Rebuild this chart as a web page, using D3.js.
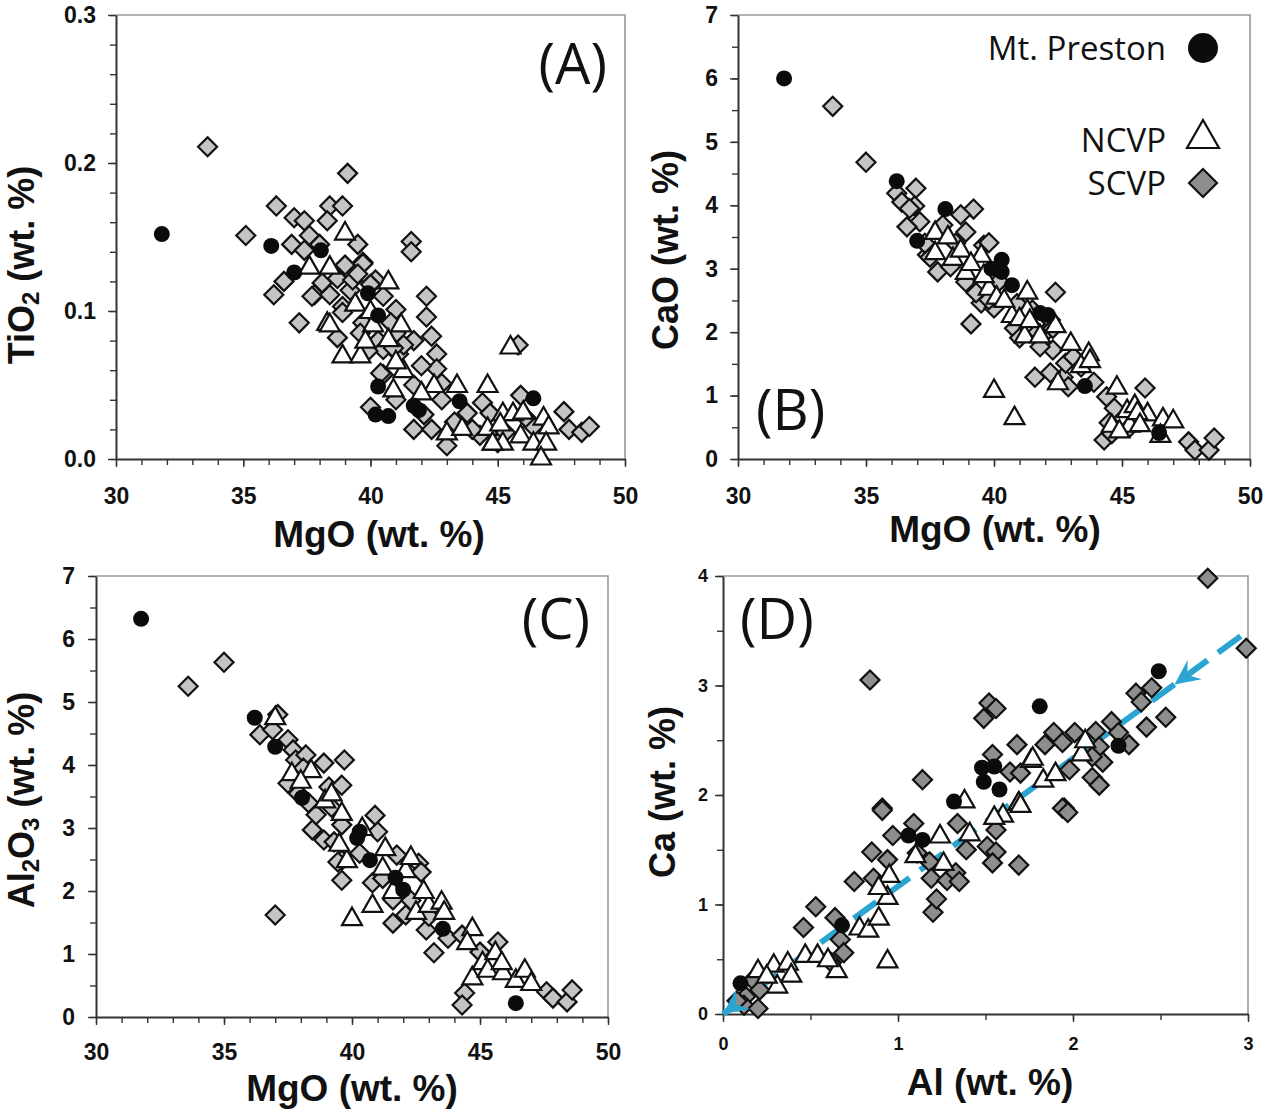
<!DOCTYPE html>
<meta charset="utf-8">
<html>
<style>
  body { margin: 0; background: #fff; }
  .tick text { font-family: "Liberation Sans", Arial, sans-serif; font-weight: bold; fill: #111; }
  .title { font-family: "Liberation Sans", Arial, sans-serif; font-weight: bold; fill: #111; }
  .plain { font-family: "Open Sans", "DejaVu Sans", sans-serif; fill: #111; }
</style>
<script src="https://cdn.jsdelivr.net/npm/d3@7"></script>
<body>
  <svg class="chart"></svg>
</body>
<script>
  var width = 1269;
  var height = 1111;

  // (A) TiO2 vs MgO, [MgO, TiO2]
  var tio2Preston = [[31.8,0.152],[36.1,0.144],[37.0,0.126],[38.05,0.141],[39.9,0.112],[40.3,0.097],[40.3,0.049],[40.2,0.030],[40.7,0.029],[41.7,0.036],[41.9,0.033],[43.5,0.039],[46.4,0.041]];
  var tio2Ncvp = [[39.0,0.153],[37.6,0.130],[38.4,0.130],[38.3,0.092],[38.4,0.091],[40.7,0.120],[40.1,0.091],[41.2,0.091],[38.9,0.070],[39.6,0.070],[39.8,0.080],[40.7,0.081],[41.3,0.060],[40.9,0.047],[42.5,0.050],[43.4,0.050],[44.6,0.050],[43.0,0.018],[43.6,0.021],[44.6,0.021],[44.8,0.011],[45.2,0.031],[45.6,0.031],[46.0,0.032],[45.5,0.076],[45.9,0.016],[46.4,0.011],[46.8,0.028],[47.0,0.022],[46.9,0.011],[46.7,0.001],[45.1,0.024],[45.2,0.011],[44.8,0.011],[39.4,0.105],[40.0,0.100],[41.0,0.066],[42.0,0.045]];
  var tio2Scvp = [[33.6,0.211],[39.1,0.193],[36.3,0.171],[38.4,0.171],[38.9,0.171],[37.0,0.163],[37.4,0.161],[38.3,0.161],[35.1,0.151],[37.6,0.151],[36.9,0.145],[37.4,0.141],[36.6,0.120],[36.2,0.111],[37.8,0.111],[38.4,0.111],[38.1,0.119],[37.2,0.092],[38.7,0.122],[39.2,0.114],[39.7,0.133],[39.7,0.092],[38.9,0.103],[39.3,0.121],[39.5,0.145],[39.0,0.131],[41.6,0.147],[41.6,0.140],[39.7,0.132],[37.7,0.110],[40.2,0.121],[41.0,0.101],[42.2,0.110],[42.2,0.096],[42.4,0.083],[42.6,0.071],[42.6,0.061],[41.7,0.080],[41.1,0.071],[40.5,0.057],[41.7,0.050],[42.8,0.051],[40.0,0.035],[41.0,0.040],[41.7,0.020],[42.4,0.020],[43.0,0.009],[42.8,0.040],[43.8,0.031],[44.4,0.038],[44.7,0.031],[44.3,0.016],[45.0,0.011],[45.8,0.077],[45.9,0.043],[46.4,0.022],[47.6,0.032],[47.8,0.020],[48.3,0.018],[48.6,0.022],[38.7,0.082],[40.4,0.058],[38.9,0.099],[40.3,0.080],[41.0,0.085],[41.3,0.077],[40.5,0.074],[39.9,0.073],[40.0,0.118],[40.5,0.110],[39.5,0.125],[40.8,0.092],[39.6,0.085],[42.1,0.030],[43.3,0.025],[44.0,0.020],[46.1,0.028],[45.3,0.018],[38.0,0.145],[40.9,0.075],[42.0,0.063]];

  // (B) CaO vs MgO, [MgO, CaO]
  var caoPreston = [[31.8,6.0],[36.2,4.38],[37.0,3.44],[38.1,3.94],[39.9,3.0],[40.3,3.14],[40.3,2.95],[40.7,2.74],[41.8,2.3],[42.1,2.27],[43.55,1.15],[46.45,0.41]];
  var caoNcvp = [[40.0,1.09],[40.8,0.66],[37.7,3.26],[38.4,3.17],[38.9,2.95],[39.5,3.22],[39.8,2.70],[40.1,2.56],[40.7,2.27],[41.3,2.64],[41.3,2.35],[41.2,1.95],[43.0,1.83],[43.7,1.67],[43.4,1.48],[42.5,1.21],[44.8,1.14],[44.6,0.54],[45.3,0.54],[45.2,0.77],[45.5,0.85],[46.0,0.72],[45.6,0.74],[46.6,0.64],[47.0,0.61],[46.5,0.38],[37.7,3.58],[38.2,3.51],[38.7,3.30],[39.1,3.09],[39.6,2.90],[40.4,2.51],[41.0,2.22],[41.4,2.19],[41.8,1.95],[42.4,2.11],[43.75,1.56],[44.9,0.45],[45.7,0.55]];
  var caoScvp = [[33.7,5.56],[35.0,4.68],[36.95,4.27],[36.2,4.19],[36.4,4.05],[36.9,3.99],[37.1,3.74],[36.6,3.66],[37.4,3.22],[39.2,3.94],[38.7,3.85],[38.0,3.69],[39.6,3.37],[39.8,3.41],[38.9,3.58],[37.8,2.95],[39.1,2.13],[42.0,1.99],[42.2,2.19],[42.4,2.63],[42.3,1.72],[42.7,1.29],[37.5,3.18],[38.3,3.03],[39.5,2.46],[40.0,2.38],[40.8,2.06],[41.0,1.91],[41.7,2.0],[41.8,1.77],[42.3,2.06],[42.8,1.51],[43.1,1.61],[41.6,1.29],[42.2,1.36],[42.9,1.14],[43.9,1.21],[44.4,0.98],[44.7,0.80],[45.9,1.12],[44.3,0.30],[47.6,0.27],[47.85,0.14],[48.4,0.14],[48.6,0.33],[44.5,0.57],[38.9,2.79],[39.3,2.62],[39.8,2.51],[37.3,3.40],[38.5,3.40],[40.2,2.80],[40.9,2.45],[41.5,2.35],[43.4,1.45],[44.6,0.40],[45.3,0.50],[36.7,3.95]];

  // (C) Al2O3 vs MgO, [MgO, Al2O3]
  var al2o3Preston = [[31.76,6.32],[36.2,4.75],[37.0,4.29],[38.05,3.48],[40.2,2.84],[40.3,2.94],[40.7,2.49],[41.7,2.21],[42.0,2.02],[43.55,1.40],[46.4,0.22]];
  var al2o3Ncvp = [[37.0,4.76],[37.65,3.87],[38.4,3.92],[38.95,3.44],[39.6,3.24],[39.8,2.49],[40.8,1.78],[40.0,1.57],[41.3,2.68],[41.2,2.37],[42.1,2.33],[42.5,1.67],[43.0,1.78],[43.5,1.83],[43.6,1.67],[44.7,1.41],[44.5,1.19],[44.7,0.63],[45.1,0.87],[45.6,1.03],[45.3,0.75],[45.9,0.71],[45.85,0.87],[46.4,0.59],[46.75,0.75],[47.0,0.54],[42.3,2.54],[38.0,3.75],[39.2,3.55],[40.4,3.0],[39.5,2.75],[42.8,2.0],[41.6,2.0]];
  var al2o3Scvp = [[35.0,5.63],[33.6,5.25],[37.1,4.8],[36.4,4.48],[36.9,4.56],[37.5,4.4],[37.7,4.24],[37.5,3.71],[37.8,4.08],[38.2,4.16],[38.9,4.03],[39.7,4.08],[38.3,3.40],[39.1,3.65],[39.6,3.68],[38.45,2.97],[38.9,2.81],[39.3,2.78],[39.6,2.49],[38.6,3.21],[39.2,3.33],[37.0,1.62],[41.0,2.94],[39.45,2.46],[39.6,2.17],[40.8,2.13],[41.6,1.86],[41.6,1.49],[42.1,1.62],[42.9,1.38],[43.2,1.02],[42.6,2.44],[42.7,2.30],[41.75,2.57],[43.75,1.25],[44.3,1.30],[45.0,1.03],[45.7,1.19],[44.4,0.38],[44.3,0.19],[47.6,0.40],[47.85,0.30],[48.4,0.24],[48.6,0.43],[39.6,3.05],[40.9,3.2],[38.1,3.95],[40.3,2.6],[42.3,1.85],[43.0,1.6],[37.9,3.55],[41.2,2.2]];

  // (D) Ca vs Al, [Al, Ca]
  var caPreston = [[0.10,0.28],[0.68,0.81],[1.06,1.63],[1.14,1.59],[1.32,1.94],[1.48,2.25],[1.55,2.26],[1.49,2.12],[1.58,2.05],[1.81,2.81],[2.26,2.45],[2.49,3.13]];
  var caNcvp = [[0.29,0.45],[0.37,0.47],[0.31,0.26],[0.39,0.36],[0.47,0.54],[0.54,0.54],[0.65,0.40],[0.78,0.79],[0.83,0.77],[0.89,0.88],[0.94,1.07],[0.95,1.27],[0.89,1.16],[0.94,0.49],[1.26,1.38],[1.24,1.63],[1.41,1.65],[1.38,1.95],[1.60,1.82],[1.69,1.93],[1.69,1.93],[1.76,2.32],[1.83,2.14],[2.05,2.38],[2.07,2.50],[1.77,2.34],[1.70,1.91],[0.20,0.40],[0.60,0.50],[1.10,1.45],[1.55,1.80],[1.90,2.20],[0.25,0.35]];
  var caScvp = [[2.77,3.98],[2.99,3.34],[0.84,3.05],[1.52,2.84],[1.56,2.79],[1.49,2.70],[2.36,2.93],[2.45,2.98],[2.39,2.85],[2.22,2.67],[2.42,2.62],[2.53,2.71],[1.89,2.57],[2.01,2.57],[2.13,2.58],[2.26,2.57],[1.68,2.46],[1.84,2.46],[1.94,2.48],[2.15,2.44],[2.32,2.46],[2.17,2.30],[2.11,2.35],[1.98,2.23],[1.54,2.37],[1.14,2.14],[0.91,1.88],[1.64,2.21],[1.70,2.20],[1.95,1.88],[2.11,2.16],[2.15,2.09],[0.91,1.86],[1.09,1.74],[0.97,1.63],[0.85,1.48],[0.94,1.41],[1.11,1.47],[1.18,1.39],[0.86,1.24],[0.75,1.21],[0.53,0.98],[0.46,0.79],[0.64,0.88],[0.67,0.68],[0.69,0.56],[0.62,0.47],[0.17,0.31],[0.13,0.16],[0.21,0.22],[1.20,0.93],[1.19,1.24],[1.28,1.22],[1.33,1.29],[1.35,1.21],[1.39,1.50],[1.51,1.53],[1.56,1.48],[1.54,1.38],[1.69,1.36],[1.94,1.88],[1.97,1.84],[1.56,1.68],[1.34,1.74],[1.22,1.05],[0.12,0.08],[0.20,0.05],[0.08,0.12]];
  var caAlTrend = [[0, 0], [3.0, 3.5]];

  var legendNames = ["Mt. Preston", "NCVP", "SCVP"];

  var diamondPath = "M0,-9.5L9.5,0L0,9.5L-9.5,0Z";
  var trianglePath = "M0,-10.5L10,7L-10,7Z";

  var chart = d3.select(".chart")
    .attr("width", width)
    .attr("height", height);

  var panels = [
    {letter: "(A)", lx: 607, ly: 84, anchor: "end",
     box: [116, 625, 15, 459], xdom: [30, 50], ydom: [0, 0.3],
     xMajor: [30, 35, 40, 45, 50], xMinor: d3.range(30, 51, 1),
     yMajor: [0, 0.1, 0.2, 0.3], yMinor: d3.range(0, 0.301, 0.02),
     yFmt: d3.format(".1f"), tickFont: 23, xPad: 21, yPad: 12,
     xTitle: [379, 534], yTitle: [34, 265], ylab: ["TiO", "2", " (wt. %)"], xlab: "MgO (wt. %)",
     series: [tio2Scvp, tio2Ncvp, tio2Preston], dFill: "#c4c4c4"},
    {letter: "(B)", lx: 756, ly: 430, anchor: "start",
     box: [738, 1250, 15, 459], xdom: [30, 50], ydom: [0, 7],
     xMajor: [30, 35, 40, 45, 50], xMinor: d3.range(30, 51, 1),
     yMajor: d3.range(0, 8, 1), yMinor: d3.range(0, 7.01, 0.5),
     yFmt: d3.format("d"), tickFont: 23, xPad: 21, yPad: 12,
     xTitle: [995, 529], yTitle: [678, 250], ylab: ["CaO", "", " (wt. %)"], xlab: "MgO (wt. %)",
     series: [caoScvp, caoNcvp, caoPreston], dFill: "#c4c4c4"},
    {letter: "(C)", lx: 590, ly: 639, anchor: "end",
     box: [96, 608, 576, 1017], xdom: [30, 50], ydom: [0, 7],
     xMajor: [30, 35, 40, 45, 50], xMinor: d3.range(30, 51, 1),
     yMajor: d3.range(0, 8, 1), yMinor: d3.range(0, 7.01, 0.5),
     yFmt: d3.format("d"), tickFont: 23, xPad: 19, yPad: 13,
     xTitle: [352, 1088], yTitle: [34, 800], ylab: ["Al", "2", "O", "3", " (wt. %)"], xlab: "MgO (wt. %)",
     series: [al2o3Scvp, al2o3Ncvp, al2o3Preston], dFill: "#c4c4c4"},
    {letter: "(D)", lx: 740, ly: 639, anchor: "start",
     box: [723, 1248, 576, 1014], xdom: [0, 3], ydom: [0, 4],
     xMajor: [0, 1, 2, 3], xMinor: d3.range(0, 3.01, 0.5),
     yMajor: [0, 1, 2, 3, 4], yMinor: d3.range(0, 4.01, 0.5),
     yFmt: d3.format("d"), tickFont: 18, xPad: 15, yPad: 7,
     xTitle: [990, 1082], yTitle: [675, 792], ylab: ["Ca", "", " (wt. %)"], xlab: "Al (wt. %)",
     series: [caScvp, caNcvp, caPreston], dFill: "#8e8e8e"}
  ];

  panels.forEach(function(p) {
    var x = d3.scaleLinear().domain(p.xdom).range([p.box[0], p.box[1]]);
    var y = d3.scaleLinear().domain(p.ydom).range([p.box[3], p.box[2]]);
    var g = chart.append("g");

    // frame top/right
    g.append("path")
      .attr("d", "M" + p.box[0] + "," + p.box[2] + "H" + p.box[1] + "V" + p.box[3])
      .attr("fill", "none").attr("stroke", "#999").attr("stroke-width", 1.6);

    // minor ticks
    g.append("g").attr("transform", "translate(0," + p.box[3] + ")")
      .call(d3.axisBottom(x).tickValues(p.xMinor).tickSize(6).tickSizeOuter(0).tickFormat(""))
      .call(function(a) { a.select(".domain").remove(); });
    g.append("g").attr("transform", "translate(" + p.box[0] + ",0)")
      .call(d3.axisLeft(y).tickValues(p.yMinor).tickSize(6).tickSizeOuter(0).tickFormat(""))
      .call(function(a) { a.select(".domain").remove(); });

    var xa = g.append("g").attr("transform", "translate(0," + p.box[3] + ")")
      .call(d3.axisBottom(x).tickValues(p.xMajor).tickSize(8).tickSizeOuter(0)
        .tickPadding(p.xPad).tickFormat(d3.format("d")));
    var ya = g.append("g").attr("transform", "translate(" + p.box[0] + ",0)")
      .call(d3.axisLeft(y).tickValues(p.yMajor).tickSize(8).tickSizeOuter(0)
        .tickPadding(p.yPad).tickFormat(p.yFmt));
    [xa, ya].forEach(function(a) {
      a.selectAll("text").style("font-size", p.tickFont + "px");
      a.select(".domain").attr("stroke", "#333").attr("stroke-width", 2);
    });
    g.selectAll(".tick line").attr("stroke", "#333").attr("stroke-width", 1.4);

    // axis titles
    g.append("text").attr("class", "title")
      .attr("x", p.xTitle[0]).attr("y", p.xTitle[1])
      .attr("dy", "0.35em").attr("text-anchor", "middle")
      .style("font-size", "37px")
      .text(p.xlab);

    var yt = g.append("text").attr("class", "title")
      .attr("transform", "translate(" + p.yTitle[0] + "," + p.yTitle[1] + ") rotate(-90)")
      .attr("text-anchor", "middle").attr("dy", "0.35em")
      .style("font-size", "36px");
    p.ylab.forEach(function(s, i) {
      if (s === "") return;
      var sub = i % 2 === 1 && s.length === 1;
      yt.append("tspan").text(s)
        .style("font-size", sub ? "24px" : "36px")
        .attr("dy", sub ? 5 : (i > 0 && p.ylab[i - 1].length === 1 ? -5 : 0));
    });

    // panel letter
    g.append("text").attr("class", "plain")
      .attr("x", p.lx).attr("y", p.ly).attr("text-anchor", p.anchor)
      .style("font-size", "56px").text(p.letter);

    // trend line in (D)
    if (p.letter === "(D)") {
      var line = d3.line().x(function(d) { return x(d[0]); }).y(function(d) { return y(d[1]); });
      g.append("path").datum(caAlTrend).attr("d", line)
        .attr("fill", "none").attr("stroke", "#2aa5d1").attr("stroke-width", 6)
        .attr("stroke-dasharray", "28,13").attr("stroke-dashoffset", 2);
    }

    // points
    g.append("g").selectAll("path").data(p.series[0]).enter().append("path")
      .attr("d", diamondPath)
      .attr("transform", function(d) { return "translate(" + x(d[0]) + "," + y(d[1]) + ")"; })
      .attr("fill", p.dFill).attr("stroke", "#111").attr("stroke-width", 2.2);
    g.append("g").selectAll("path").data(p.series[1]).enter().append("path")
      .attr("d", trianglePath)
      .attr("transform", function(d) { return "translate(" + x(d[0]) + "," + y(d[1]) + ")"; })
      .attr("fill", "#fff").attr("stroke", "#111").attr("stroke-width", 2.2);
    g.append("g").selectAll("circle").data(p.series[2]).enter().append("circle")
      .attr("cx", function(d) { return x(d[0]); })
      .attr("cy", function(d) { return y(d[1]); })
      .attr("r", 8).attr("fill", "#0b0b0b");

    if (p.letter === "(D)") {
      var a0 = caAlTrend[0], a1 = caAlTrend[1];
      var ang = Math.atan2(y(a0[1]) - y(a1[1]), x(a0[0]) - x(a1[0])) * 180 / Math.PI;
      var arrow = "M0,0L-25,-12L-16,0L-25,12Z";
      var t = 0.86;
      var mid = [a0[0] + (a1[0] - a0[0]) * t, a0[1] + (a1[1] - a0[1]) * t];
      [mid, a0].forEach(function(d) {
        g.append("path").attr("d", arrow)
          .attr("transform", "translate(" + x(d[0]) + "," + y(d[1]) + ") rotate(" + ang + ")")
          .attr("fill", "#2aa5d1");
      });
    }
  });

  // legend
  var leg = chart.append("g");
  var legY = [48, 140, 183];
  leg.selectAll("text").data(legendNames).enter().append("text")
    .attr("class", "plain")
    .attr("x", 1166).attr("y", function(d, i) { return legY[i]; })
    .attr("dy", "0.36em").attr("text-anchor", "end")
    .style("font-size", "33px")
    .text(function(d) { return d; });
  leg.append("circle").attr("cx", 1203).attr("cy", legY[0]).attr("r", 15).attr("fill", "#0b0b0b");
  leg.append("path").attr("d", "M0,-16L16,12L-16,12Z")
    .attr("transform", "translate(1203," + (legY[1] - 4) + ")")
    .attr("fill", "#fff").attr("stroke", "#111").attr("stroke-width", 2.2);
  leg.append("path").attr("d", "M0,-14L14,0L0,14L-14,0Z")
    .attr("transform", "translate(1203," + legY[2] + ")")
    .attr("fill", "#8e8e8e").attr("stroke", "#111").attr("stroke-width", 2.2);
</script>

</html>
